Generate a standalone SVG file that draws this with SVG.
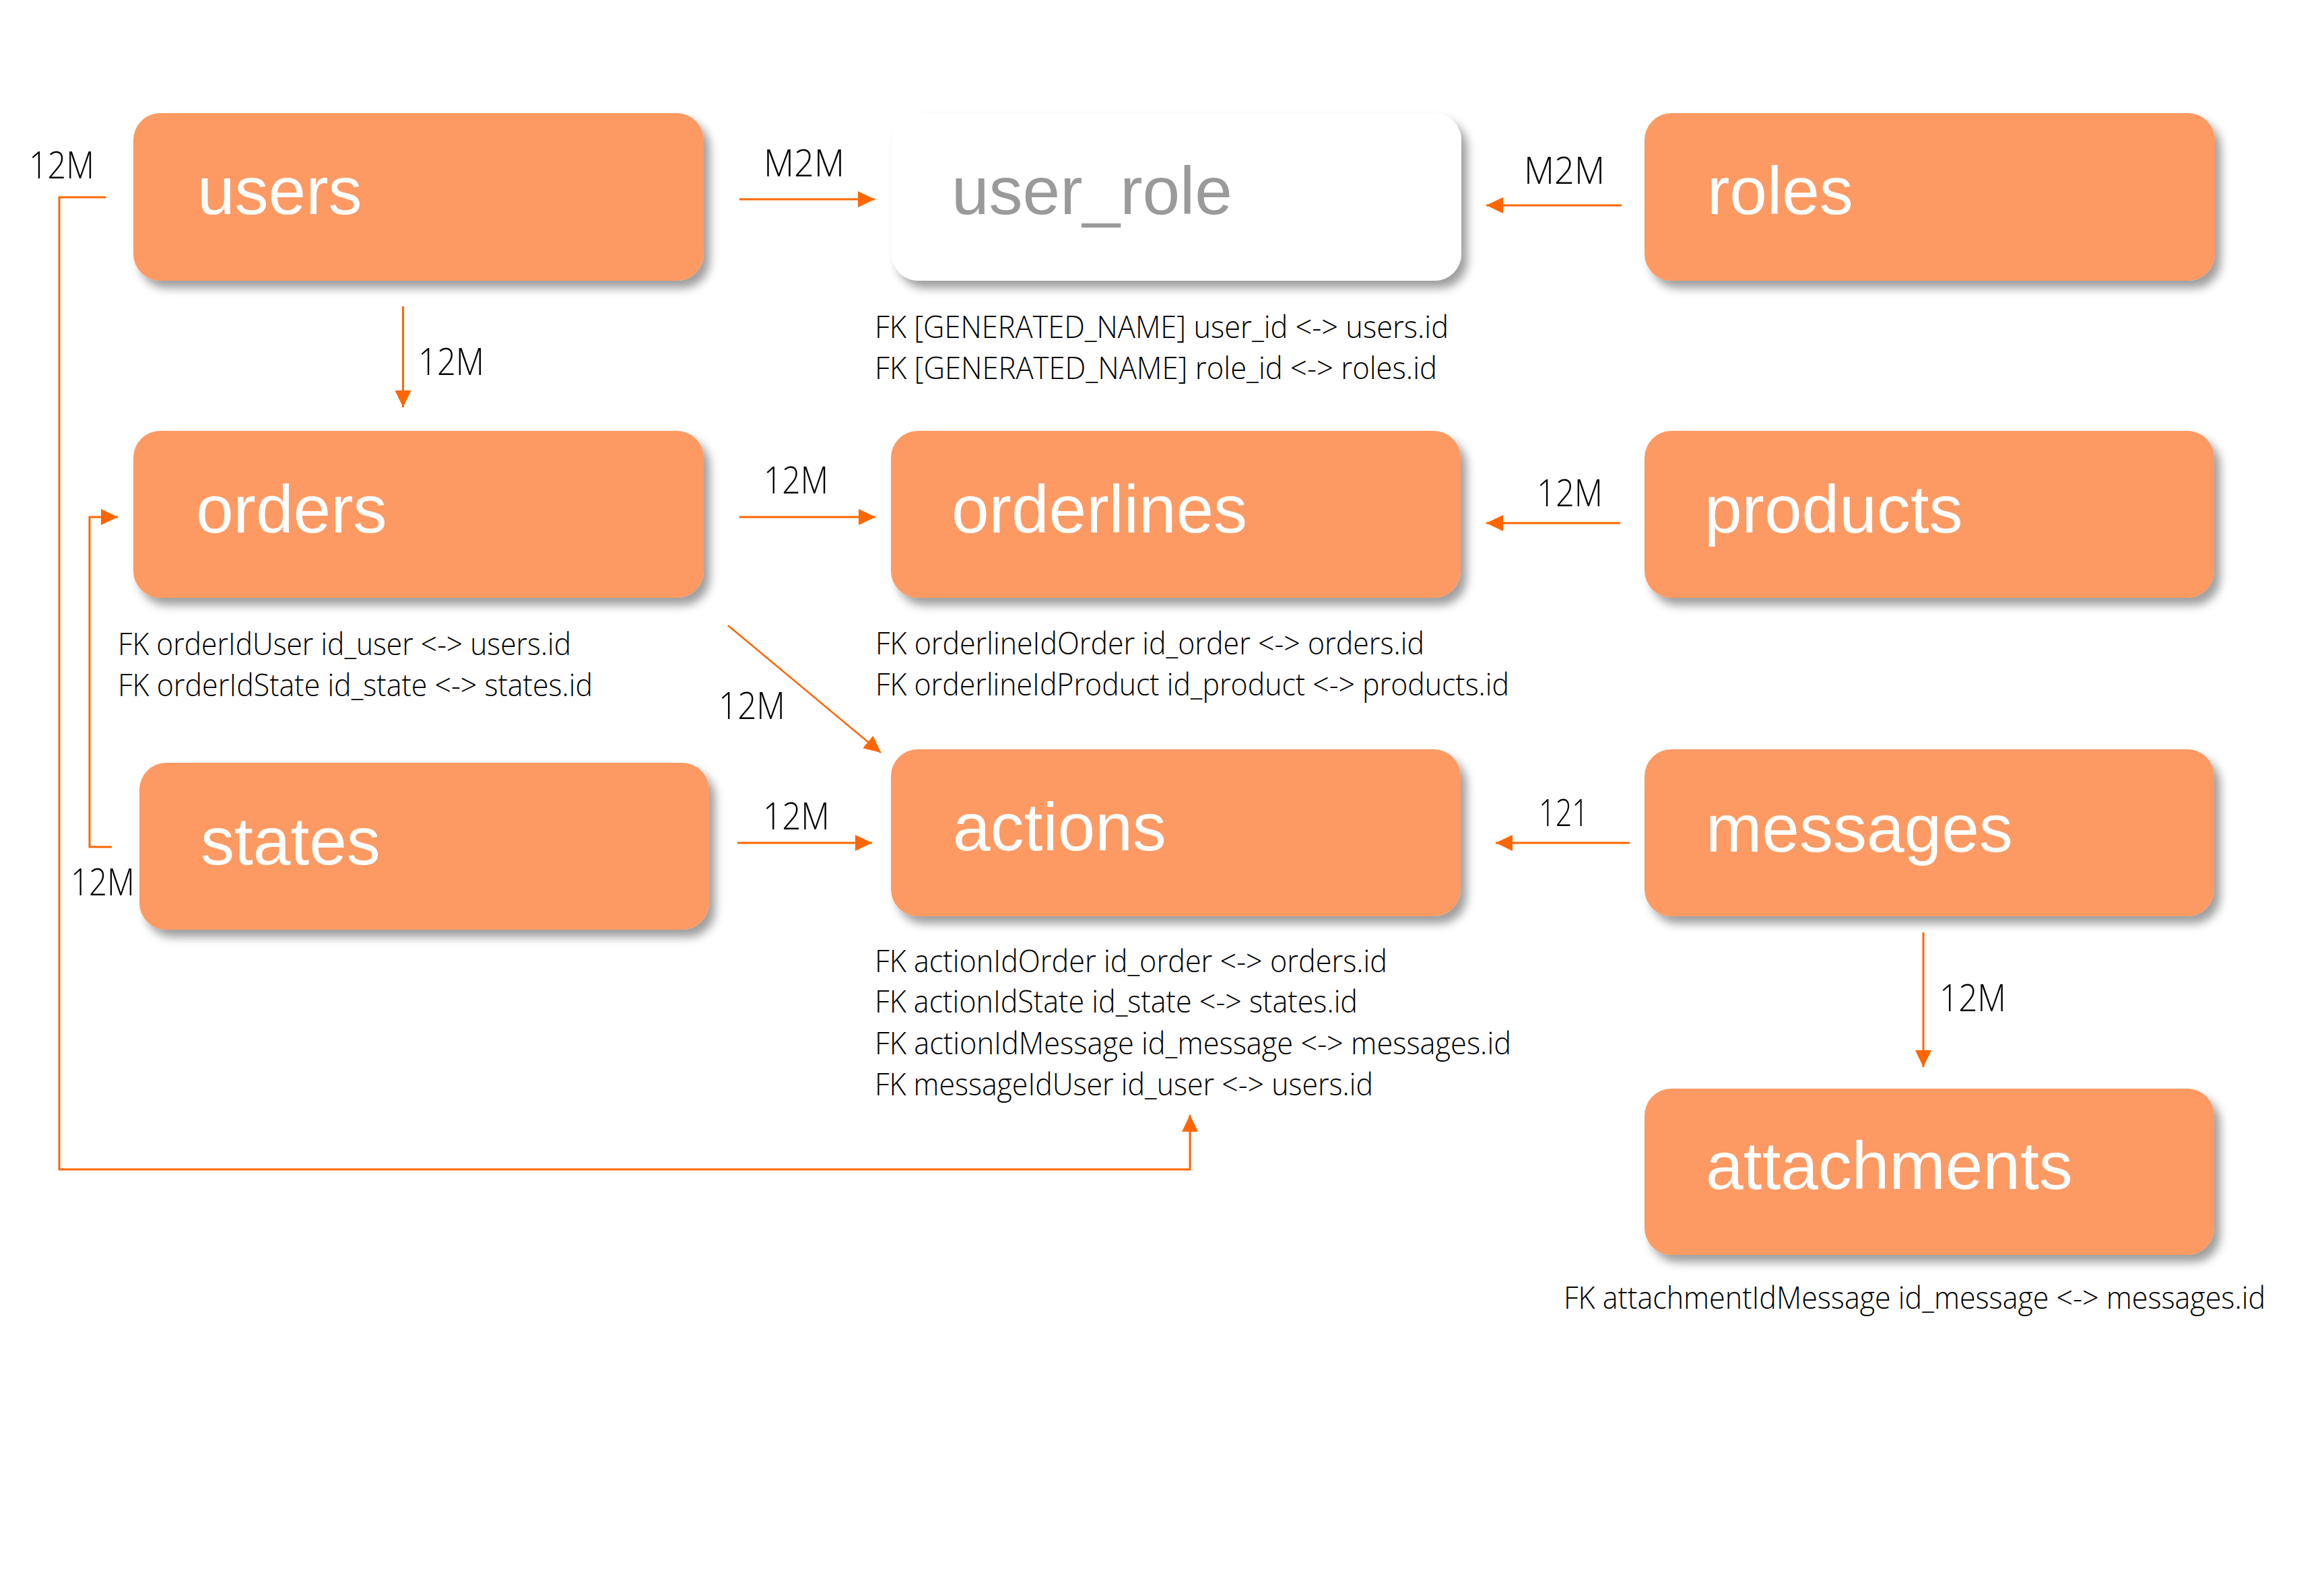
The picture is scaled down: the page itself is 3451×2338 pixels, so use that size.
<svg xmlns="http://www.w3.org/2000/svg" width="3451" height="2338" viewBox="0 0 3451 2338">
<style>
.box{fill:#FD9A63;filter:url(#sh)}
.wbox{fill:#FFFFFF;filter:url(#sh)}
.nt{font-family:"Liberation Sans",Arial,sans-serif;font-size:100px;fill:#FFFFFF}
.gt{font-family:"Liberation Sans",Arial,sans-serif;font-size:100px;fill:#9A9A9A}
.lbl{font-family:"Open Sans","Liberation Sans",sans-serif;font-weight:300;font-size:56px;fill:#000000}
.fk{font-family:"Open Sans","Liberation Sans",sans-serif;font-weight:300;font-size:46px;fill:#000000}
.cn{fill:none;stroke:#FF6600;stroke-width:3}
</style>
<defs>
<filter id="sh" x="-10%" y="-20%" width="125%" height="150%">
<feDropShadow dx="9" dy="11" stdDeviation="7" flood-color="#000000" flood-opacity="0.38"/>
</filter>
<marker id="ah" markerUnits="userSpaceOnUse" markerWidth="26" markerHeight="26" refX="25" refY="12" orient="auto">
<path d="M0,0 L25,12 L0,24 z" fill="#FF6600"/>
</marker>
</defs>
<rect width="3451" height="2338" fill="#FFFFFF"/>

<g id="users"><rect class="box" x="198" y="168" width="847" height="249" rx="40" ry="40"/><text class="nt" x="293" y="318">users</text></g>
<g id="user_role"><rect class="wbox" x="1324" y="168" width="846" height="249" rx="40" ry="40"/><text class="gt" x="1413" y="318">user_role</text>
<text class="fk" x="1299" y="502" textLength="852" lengthAdjust="spacingAndGlyphs">FK [GENERATED_NAME] user_id &lt;-&gt; users.id</text>
<text class="fk" x="1299" y="563" textLength="835" lengthAdjust="spacingAndGlyphs">FK [GENERATED_NAME] role_id &lt;-&gt; roles.id</text></g>
<g id="roles"><rect class="box" x="2442" y="168" width="847" height="249" rx="40" ry="40"/><text class="nt" x="2535" y="318">roles</text></g>

<g id="orders"><rect class="box" x="198" y="640" width="847" height="248" rx="40" ry="40"/><text class="nt" x="291" y="791">orders</text>
<text class="fk" x="175" y="973" textLength="673" lengthAdjust="spacingAndGlyphs">FK orderIdUser id_user &lt;-&gt; users.id</text>
<text class="fk" x="175" y="1034" textLength="705" lengthAdjust="spacingAndGlyphs">FK orderIdState id_state &lt;-&gt; states.id</text></g>
<g id="orderlines"><rect class="box" x="1323" y="640" width="846" height="248" rx="40" ry="40"/><text class="nt" x="1413" y="791">orderlines</text>
<text class="fk" x="1300" y="972" textLength="815" lengthAdjust="spacingAndGlyphs">FK orderlineIdOrder id_order &lt;-&gt; orders.id</text>
<text class="fk" x="1300" y="1033" textLength="941" lengthAdjust="spacingAndGlyphs">FK orderlineIdProduct id_product &lt;-&gt; products.id</text></g>
<g id="products"><rect class="box" x="2442" y="640" width="846" height="248" rx="40" ry="40"/><text class="nt" x="2531" y="791">products</text></g>

<g id="states"><rect class="box" x="207" y="1133" width="846" height="248" rx="40" ry="40"/><text class="nt" x="298" y="1284">states</text></g>
<g id="actions"><rect class="box" x="1323" y="1113" width="846" height="248" rx="40" ry="40"/><text class="nt" x="1415" y="1263">actions</text>
<text class="fk" x="1299" y="1444" textLength="761" lengthAdjust="spacingAndGlyphs">FK actionIdOrder id_order &lt;-&gt; orders.id</text>
<text class="fk" x="1299" y="1504" textLength="717" lengthAdjust="spacingAndGlyphs">FK actionIdState id_state &lt;-&gt; states.id</text>
<text class="fk" x="1299" y="1566" textLength="945" lengthAdjust="spacingAndGlyphs">FK actionIdMessage id_message &lt;-&gt; messages.id</text>
<text class="fk" x="1299" y="1627" textLength="740" lengthAdjust="spacingAndGlyphs">FK messageIdUser id_user &lt;-&gt; users.id</text></g>
<g id="messages"><rect class="box" x="2442" y="1113" width="846" height="248" rx="40" ry="40"/><text class="nt" x="2533" y="1265">messages</text></g>
<g id="attachments"><rect class="box" x="2442" y="1617" width="846" height="247" rx="40" ry="40"/><text class="nt" x="2533" y="1766">attachments</text>
<text class="fk" x="2322" y="1944" textLength="1042" lengthAdjust="spacingAndGlyphs">FK attachmentIdMessage id_message &lt;-&gt; messages.id</text></g>

<g id="connectors">
<line class="cn" x1="1098" y1="296" x2="1299" y2="296" marker-end="url(#ah)"/>
<line class="cn" x1="2408" y1="305" x2="2207" y2="305" marker-end="url(#ah)"/>
<line class="cn" x1="598.5" y1="455" x2="598.5" y2="605" marker-end="url(#ah)"/>
<line class="cn" x1="1098" y1="768" x2="1300" y2="768" marker-end="url(#ah)"/>
<line class="cn" x1="2406" y1="777" x2="2207" y2="777" marker-end="url(#ah)"/>
<line class="cn" x1="1081" y1="929" x2="1308" y2="1118" marker-end="url(#ah)" style="stroke-width:2.5"/>
<line class="cn" x1="1095" y1="1252" x2="1295" y2="1252" marker-end="url(#ah)"/>
<line class="cn" x1="2420" y1="1252" x2="2221" y2="1252" marker-end="url(#ah)"/>
<line class="cn" x1="2856" y1="1385" x2="2856" y2="1585" marker-end="url(#ah)"/>
<polyline class="cn" points="157,293 88,293 88,1737 1767,1737 1767,1656" marker-end="url(#ah)"/>
<polyline class="cn" points="166,1258 133,1258 133,768 175,768" marker-end="url(#ah)"/>
<text class="lbl" x="43" y="265" textLength="97" lengthAdjust="spacingAndGlyphs">12M</text>
<text class="lbl" x="1134" y="262" textLength="120" lengthAdjust="spacingAndGlyphs">M2M</text>
<text class="lbl" x="2263" y="273" textLength="120" lengthAdjust="spacingAndGlyphs">M2M</text>
<text class="lbl" x="621" y="557" textLength="98" lengthAdjust="spacingAndGlyphs">12M</text>
<text class="lbl" x="1134" y="733" textLength="96" lengthAdjust="spacingAndGlyphs">12M</text>
<text class="lbl" x="2282" y="752" textLength="98" lengthAdjust="spacingAndGlyphs">12M</text>
<text class="lbl" x="1067" y="1068" textLength="99" lengthAdjust="spacingAndGlyphs">12M</text>
<text class="lbl" x="1133" y="1232" textLength="99" lengthAdjust="spacingAndGlyphs">12M</text>
<text class="lbl" x="2285" y="1227" textLength="74" lengthAdjust="spacingAndGlyphs">121</text>
<text class="lbl" x="105" y="1330" textLength="95" lengthAdjust="spacingAndGlyphs">12M</text>
<text class="lbl" x="2880" y="1502" textLength="99" lengthAdjust="spacingAndGlyphs">12M</text>
</g>
</svg>
